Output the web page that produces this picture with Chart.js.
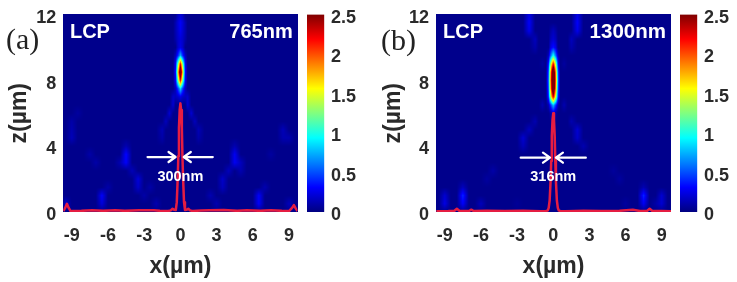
<!DOCTYPE html>
<html>
<head>
<meta charset="utf-8">
<script src="https://cdn.jsdelivr.net/npm/chart.js@4"></script>
<style>
html,body{margin:0;padding:0;background:#fff;width:737px;height:282px;overflow:hidden}
canvas{position:absolute;top:0;filter:blur(0.35px)}
.tag{position:absolute;font:30px "Liberation Serif",serif;color:#222;line-height:34px}
</style>
</head>
<body>
<canvas id="hA" style="left:0" width="300" height="282"></canvas>
<canvas id="cA" style="left:300px" width="70" height="282"></canvas>
<canvas id="hB" style="left:370px" width="303" height="282"></canvas>
<canvas id="cB" style="left:672px" width="65" height="282"></canvas>
<div class="tag" style="left:6px;top:22px">(a)</div>
<div class="tag" style="left:381px;top:23px">(b)</div>
<script>
const xTicks=[-9,-6,-3,0,3,6,9];
const zTicks=[0,4,8,12];
const barTicks=[0,0.5,1,1.5,2,2.5];
const barRange=[0,2.5];
const gridX=[-9.75,-9.5,-9,-8.5,-8,-7.5,-7,-6.5,-6,-5.5,-5,-4.5,-4,-3.5,-3,-2.5,-2,-1.5,-1.2,-0.9,-0.6,-0.4,-0.2,0,0.2,0.4,0.6,0.9,1.2,1.5,2,2.5,3,3.5,4,4.5,5,5.5,6,6.5,7,7.5,8,8.5,9,9.5,9.8];
const gridZ=[0,0.5,1,1.5,2,2.5,3,3.5,4,4.5,5,5.5,6,6.5,7,7.5,8,8.5,9,9.5,10,10.5,11,11.5,12];
const fieldFloor=0.03;

// intensity readings [x, z, value]; everything else is the dark background
const fieldA=[
[0,7,.25],[0,7.5,.85],[0,8,2.2],[0,8.5,3],[0,9,2.2],[0,9.5,.75],[0,10,.25],[0,10.5,.22],[0,11,.28],[0,11.5,.3],[0,12,.2],
[-.2,7,.18],[-.2,7.5,.45],[-.2,8,1.2],[-.2,8.5,1.6],[-.2,9,1.2],[-.2,9.5,.4],[-.2,10,.18],[-.2,10.5,.18],[-.2,11,.2],[-.2,11.5,.22],[-.2,12,.15],
[.2,7,.18],[.2,7.5,.45],[.2,8,1.2],[.2,8.5,1.6],[.2,9,1.2],[.2,9.5,.4],[.2,10,.18],[.2,10.5,.18],[.2,11,.2],[.2,11.5,.22],[.2,12,.15],
[-.4,7,.15],[-.4,7.5,.15],[-.4,8,.3],[-.4,8.5,.35],[-.4,9,.3],[-.4,9.5,.15],[-.4,10.5,.1],[-.4,11,.12],[-.4,11.5,.12],
[.4,7,.15],[.4,7.5,.15],[.4,8,.3],[.4,8.5,.35],[.4,9,.3],[.4,9.5,.15],[.4,10.5,.1],[.4,11,.12],[.4,11.5,.12],
[-.6,7,.18],[-.6,6.5,.2],[-.9,6,.2],[-1.2,5.5,.15],[-1.5,5,.13],[-1.5,4.5,.1],
[.6,7,.18],[.6,6.5,.2],[.9,6,.2],[1.2,5.5,.15],[1.5,5,.13],[1.5,4.5,.1],
[-9,5,.12],[-9,4.5,.14],[-9,5.5,.1],[-8.5,6,.08],[-7.5,3.5,.1],[-7,3,.1],
[-6.5,1,.3],[-6.5,.5,.22],[-6,1.5,.1],[-5,3,.12],[-4.5,3.5,.32],[-4.5,3,.3],[-4.5,4,.12],
[-4,2.5,.14],[-3.5,2,.22],[-3.5,1.5,.18],[-3,1,.1],[-2.5,1.5,.1],[-2,.5,.12],[-9.5,.5,.2],
[4.5,3.5,.28],[4.5,3,.28],[4.5,4,.12],[4,2.5,.15],[3.5,2,.18],[3.5,1.5,.15],[5,3,.15],[5,2.5,.12],
[2.5,1,.12],[3,.5,.12],[6.5,1,.3],[6.5,.5,.3],[7,1.5,.12],[8.5,5,.14],[9,4.5,.12],[8.5,4.5,.12],[9,.5,.15],[7.5,3.5,.08]
];
const fieldB=[
[0,6,.2],[0,6.5,.8],[0,7,2.3],[0,7.5,3.1],[0,8,3.3],[0,8.5,3.1],[0,9,2.2],[0,9.5,1],[0,10,.35],[0,10.5,.2],[0,11,.15],
[-.2,6,.1],[-.2,6.5,.45],[-.2,7,1.5],[-.2,7.5,1.9],[-.2,8,2],[-.2,8.5,1.9],[-.2,9,1.4],[-.2,9.5,.6],[-.2,10,.25],[-.2,10.5,.15],[-.2,11,.1],
[.2,6,.1],[.2,6.5,.45],[.2,7,1.5],[.2,7.5,1.9],[.2,8,2],[.2,8.5,1.9],[.2,9,1.4],[.2,9.5,.6],[.2,10,.25],[.2,10.5,.15],[.2,11,.1],
[-.4,6.5,.12],[-.4,7,.4],[-.4,7.5,.5],[-.4,8,.55],[-.4,8.5,.5],[-.4,9,.35],[-.4,9.5,.15],
[.4,6.5,.12],[.4,7,.4],[.4,7.5,.5],[.4,8,.55],[.4,8.5,.5],[.4,9,.35],[.4,9.5,.15],
[-2,12,.25],[-2,11.5,.3],[-2,11,.26],[-1.5,10.5,.15],[-1.5,10,.11],[-.9,9,.08],
[2,12,.25],[2,11.5,.3],[2,11,.26],[1.5,10.5,.15],[1.5,10,.11],[.9,9,.08],
[-.9,6.5,.12],[-1.5,5.5,.12],[-2,5,.15],[-2.5,4.5,.2],[-2.5,4,.14],
[.9,6.5,.12],[1.5,5.5,.12],[2,5,.2],[2,4.5,.18],[2.5,4,.12],
[-5,2.5,.1],[-5.5,2,.08],[-7.5,1,.4],[-7.5,.5,.3],[-7.5,1.5,.15],[-9,.5,.25],[-9,1,.2],[-6,.5,.15],[-3,.5,.06],
[5.5,2,.08],[5,2.5,.07],[7.5,1,.4],[7.5,.5,.28],[7.5,1.5,.12],[9,1,.2],[9,.5,.2],[6,.5,.08],[8.5,.5,.1]
];

const profileXA=[-9.7,-9.55,-9.4,-9.25,-9.1,-8.2,-7.3,-6.4,-5.4,-4.6,-3.4,-2.2,-1.7,-1,-.8,-.65,-.5,-.38,-.3,-.22,-.17,-.12,-.06,0,.06,.12,.17,.22,.3,.38,.5,.65,.8,1,1.7,2.4,3.6,4.7,5.5,6.6,7.5,8.4,9,9.25,9.4,9.55,9.7];
const profileZA=[.05,.25,.5,.25,.06,.07,.11,.07,.1,.07,.1,.11,.07,.06,.1,.2,.13,.12,.6,2.1,3.4,5.1,6.2,6.6,6.2,5.1,3.4,2.1,.6,.12,.13,.2,.1,.06,.09,.11,.12,.07,.11,.07,.1,.07,.06,.25,.42,.22,.05];
const profileXB=[-9.7,-8.7,-8.2,-8,-7.8,-7,-6.8,-6.6,-5.5,-4,-2.5,-1,-.6,-.45,-.38,-.3,-.22,-.17,-.12,-.06,0,.06,.12,.17,.22,.3,.38,.45,.6,1,2.5,4,5.5,6.6,7.2,7.8,8,8.2,9,9.77];
const profileZB=[.04,.06,.08,.2,.08,.06,.14,.06,.07,.06,.07,.05,.05,.1,.25,.7,1.9,3.1,4.6,5.6,6,5.6,4.6,3.1,1.9,.7,.25,.1,.05,.05,.07,.06,.07,.14,.06,.08,.2,.08,.06,.04];

const arrowsA=[[-2.72,-.4,3.34],[2.68,.28,3.34]];
const arrowsB=[[-2.7,-.27,3.3],[2.7,.22,3.3]];
const notesA=[['LCP',-9.15,10.9,'left',20],['765nm',9.3,10.9,'right',20],['300nm',0,2.15,'center',14.5]];
const notesB=[['LCP',-9.15,10.9,'left',20],['1300nm',9.35,10.9,'right',20.5],['316nm',0,2.15,'center',14.5]];

const INK='#2a2a2a';
const FACE='"Liberation Sans",Arial,sans-serif';
const cl=v=>Math.max(0,Math.min(1,v));
function jet(t){const v=cl(t);return [cl(1.5-Math.abs(4*v-3)),cl(1.5-Math.abs(4*v-2)),cl(1.5-Math.abs(4*v-1))].map(c=>Math.round(c*255));}
function nearest(arr,v){let b=0;arr.forEach((a,i)=>{if(Math.abs(a-v)<Math.abs(arr[b]-v))b=i;});return b;}
function cellIndex(arr,v){let i=0;while(i<arr.length-2&&arr[i+1]<=v)i++;return i;}
function noPad(s){s.paddingLeft=0;s.paddingRight=0;s.paddingTop=0;s.paddingBottom=0;}

// value-axis labels sit slightly below their tick position in the reference
const labelShiftPlugin={id:'labelShift',beforeDraw(chart){
  const s=chart.scales.y;
  s.getLabelItems().forEach(it=>{if(!it.shifted){it.options.translation[1]+=3.2;it.shifted=true;}});
}};
const heatPlugin={id:'heat',beforeDatasetsDraw(chart){
  const ds=chart.data.datasets.find(d=>d.field);
  const m=gridZ.map(()=>gridX.map(()=>fieldFloor));
  ds.data.forEach(p=>{m[nearest(gridZ,p.y)][nearest(gridX,p.x)]=p.v;});
  const a=chart.chartArea,sx=chart.scales.x,sy=chart.scales.y;
  const L=Math.floor(a.left),T=Math.floor(a.top),W=Math.ceil(a.right)-L,H=Math.ceil(a.bottom)-T;
  const off=document.createElement('canvas');off.width=W;off.height=H;
  const oc=off.getContext('2d'),img=oc.createImageData(W,H),top=barRange[1];
  for(let j=0;j<H;j++){
    const z=Math.max(0,Math.min(12,sy.getValueForPixel(T+j+.5)));
    const r=cellIndex(gridZ,z),tz=(z-gridZ[r])/(gridZ[r+1]-gridZ[r]);
    for(let i=0;i<W;i++){
      const x=Math.max(gridX[0],Math.min(gridX[gridX.length-1],sx.getValueForPixel(L+i+.5)));
      const c=cellIndex(gridX,x),tx=(x-gridX[c])/(gridX[c+1]-gridX[c]);
      const v=(m[r][c]*(1-tx)+m[r][c+1]*tx)*(1-tz)+(m[r+1][c]*(1-tx)+m[r+1][c+1]*tx)*tz;
      const rgb=jet(v/top),k=(j*W+i)*4;
      img.data[k]=rgb[0];img.data[k+1]=rgb[1];img.data[k+2]=rgb[2];img.data[k+3]=255;
    }
  }
  oc.putImageData(img,0,0);
  chart.ctx.drawImage(off,L,T);
}};
const notePlugin={id:'notes',afterDatasetsDraw(chart,args,opts){
  const c=chart.ctx,sx=chart.scales.x,sy=chart.scales.y;
  c.save();c.strokeStyle='#fff';c.fillStyle='#fff';c.lineWidth=2.3;c.lineCap='round';c.lineJoin='round';
  opts.arrows.forEach(([a,b,z])=>{
    const x0=sx.getPixelForValue(a),x1=sx.getPixelForValue(b),y=sy.getPixelForValue(z),d=x1>x0?-1:1;
    c.beginPath();c.moveTo(x0,y);c.lineTo(x1,y);
    c.moveTo(x1+d*7,y-5);c.lineTo(x1,y);c.lineTo(x1+d*7,y+5);c.stroke();
  });
  c.textBaseline='middle';
  opts.notes.forEach(([t,x,z,al,size])=>{
    c.font='bold '+size+'px '+FACE;c.textAlign=al;
    c.fillText(t,sx.getPixelForValue(x),sy.getPixelForValue(z));
  });
  c.restore();
}};
function heatChart(id,field,px,pz,xmin,xmax,yWidth,rightPad,titlePad,arrows,notes){
  return new Chart(document.getElementById(id),{
    type:'scatter',
    data:{datasets:[
      {label:'profile',data:px.map((x,i)=>({x,y:pz[i]})),showLine:true,borderColor:'#e51d42',borderWidth:2.5,borderJoinStyle:'round',pointRadius:0,tension:0,order:1},
      {label:'intensity',field:true,data:field.map(([x,y,v])=>({x,y,v})),showLine:false,pointRadius:0,order:2}
    ]},
    options:{responsive:false,animation:false,
      layout:{padding:{top:14.5,right:rightPad,left:0,bottom:0}},
      plugins:{legend:{display:false},tooltip:{enabled:false},notes:{arrows,notes}},
      scales:{
        x:{type:'linear',min:xmin,max:xmax,grid:{display:false,drawTicks:false},border:{display:false},
          afterBuildTicks:s=>{s.ticks=xTicks.map(value=>({value}));},
          afterFit:s=>{s.height=70;noPad(s);},
          ticks:{color:INK,font:{family:FACE,weight:'bold',size:18},padding:13,maxRotation:0,autoSkip:false},
          title:{display:true,text:'x(µm)',color:INK,font:{family:FACE,weight:'bold',size:23},padding:{top:0,bottom:2}}},
        y:{type:'linear',min:0,max:12,grid:{display:false,drawTicks:false},border:{display:false},
          afterBuildTicks:s=>{s.ticks=zTicks.map(value=>({value}));},
          afterFit:s=>{s.width=yWidth;noPad(s);},
          ticks:{color:INK,font:{family:FACE,weight:'bold',size:18},padding:7,autoSkip:false},
          title:{display:true,text:'z(µm)',color:INK,font:{family:FACE,weight:'bold',size:23},padding:{top:titlePad,bottom:0}}}
      }},
    plugins:[heatPlugin,notePlugin,labelShiftPlugin]
  });
}
function barChart(id,leftPad,axisWidth){
  return new Chart(document.getElementById(id),{
    type:'bar',
    data:{labels:['I'],datasets:[{data:[barRange],barPercentage:1,categoryPercentage:1,
      backgroundColor(ctx){
        const a=ctx.chart.chartArea,s=ctx.chart.scales.y;
        if(!a||!s)return '#00007f';
        const g=ctx.chart.ctx.createLinearGradient(0,s.getPixelForValue(barRange[0]),0,s.getPixelForValue(barRange[1]));
        for(let i=0;i<=32;i++){const c=jet(i/32);g.addColorStop(i/32,'rgb('+c.join(',')+')');}
        return g;
      }}]},
    options:{responsive:false,animation:false,
      layout:{padding:{top:14.5,bottom:70,left:leftPad,right:0}},
      plugins:{legend:{display:false},tooltip:{enabled:false}},
      scales:{
        x:{display:false},
        y:{position:'right',min:barRange[0],max:barRange[1],grid:{display:false,drawTicks:false},border:{display:false},
          afterBuildTicks:s=>{s.ticks=barTicks.map(value=>({value}));},
          afterFit:s=>{s.width=axisWidth;noPad(s);},
          ticks:{color:INK,font:{family:FACE,weight:'bold',size:18},padding:6.7,autoSkip:false,callback:v=>String(v)}}
      }},
    plugins:[labelShiftPlugin]
  });
}
heatChart('hA',fieldA,profileXA,profileZA,-9.7,9.7,63.3,2.5,6,arrowsA,notesA);
barChart('cA',7,45.7);
heatChart('hB',fieldB,profileXB,profileZB,-9.73,9.77,66,2,10,arrowsB,notesB);
barChart('cB',8,39.7);
</script>
</body>
</html>
